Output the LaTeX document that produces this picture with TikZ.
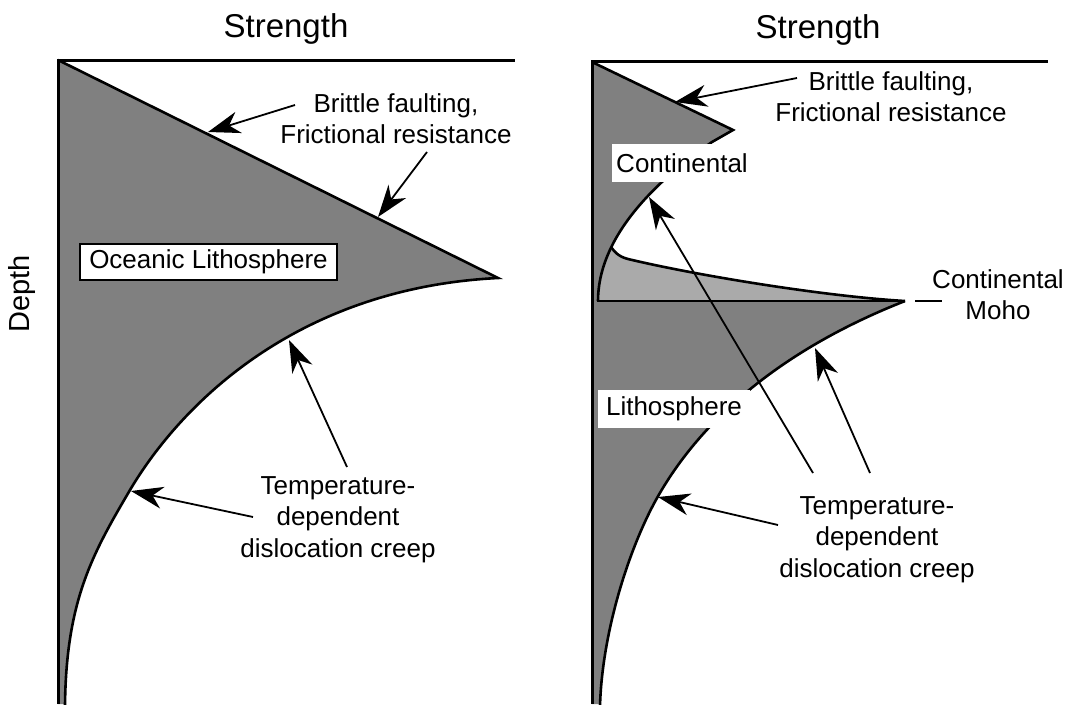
\documentclass[tikz,border=0pt]{standalone}
\usepackage{fontspec}
\setmainfont{Liberation Sans}
\usetikzlibrary{arrows.meta}
\definecolor{darkg}{RGB}{128,128,128}
\definecolor{lightg}{RGB}{170,170,170}
\newcommand\lblfont{\fontsize{26}{31.5}\selectfont}
\newcommand\ttlfont{\fontsize{33}{38}\selectfont}
\begin{document}
\begin{tikzpicture}[x=1pt,y=-1pt,
  outl/.style={line width=2.6pt, line join=miter, miter limit=20},
  axisline/.style={line width=3pt, line join=miter},
  arr/.style={line width=1.8pt, -{Stealth[length=32pt,width=22pt,inset=10pt]}},
  lbl/.style={font=\lblfont, inner sep=0pt, align=center},
  ttl/.style={font=\ttlfont, inner sep=0pt, anchor=base}]
\useasboundingbox (0,0) rectangle (1068,704);

% ---------- left panel ----------
\fill[darkg] (58,60) -- (498,278) .. controls (297,288) and (181,404) .. (130,490)
  .. controls (93,553) and (66,600) .. (65,704) -- (58,704) -- cycle;
\draw[outl] (58,60) -- (498,278) .. controls (297,288) and (181,404) .. (130,490)
  .. controls (93,553) and (66,600) .. (65,706);
\draw[axisline] (58,704) -- (58,60) -- (515,60);

% ---------- right panel ----------
\fill[lightg] (905,301) .. controls (820,296) and (690,274) .. (628,259)
  .. controls (618,256.6) and (614,251) .. (611,247) -- (600,240) -- (592,240) -- (592,301) -- cycle;
\draw[outl] (905,301) .. controls (820,296) and (690,274) .. (628,259)
  .. controls (618,256.6) and (614,251) .. (611,247);
\fill[darkg] (592,62) -- (733,130) -- (712,142) .. controls (650,185) and (598,240) .. (598,301) -- (592,301) -- cycle;
\draw[outl] (592,62) -- (733,130) -- (712,142) .. controls (650,185) and (598,240) .. (598,301);
\fill[darkg] (592,301) -- (905,301) .. controls (793,345) and (706,411) .. (657,498)
  .. controls (628,550) and (602,634) .. (600,704) -- (592,704) -- cycle;
\draw[outl] (905,301) .. controls (793,345) and (706,411) .. (657,498)
  .. controls (628,550) and (602,634) .. (600,706);
\draw[outl] (597,301) -- (905,301);
\draw[axisline] (592,704) -- (592,61) -- (1048,61);

% ---------- titles ----------
\node[ttl] (tL) at (286,37) {Strength};
\node[ttl] (tR) at (818,38) {Strength};
\node[font=\fontsize{29}{34}\selectfont, rotate=90, inner sep=0pt] (depth) at (22,294) {Depth};

% ---------- labels ----------
\node[lbl, draw, line width=1.4pt, fill=white, minimum width=257pt, minimum height=36pt] (oce) at (208.5,262) {Oceanic Lithosphere};
\node[lbl, fill=white, minimum width=140pt, minimum height=38pt] (cont) at (682,163) {Continental};
\node[lbl, fill=white, minimum width=152pt, minimum height=38pt] (litho) at (674,409) {Lithosphere};

\node[lbl, anchor=north] (brL) at (396,93) {Brittle faulting,\\Frictional resistance};
\node[lbl, anchor=north] (brR) at (891,71) {Brittle faulting,\\Frictional resistance};
\node[lbl, anchor=north] (tempL) at (338,476) {Temperature-\\dependent\\dislocation creep};
\node[lbl, anchor=north] (tempR) at (877,496) {Temperature-\\dependent\\dislocation creep};
\node[lbl, anchor=north] (moho) at (998,269) {Continental\\Moho};

\coordinate (mohoA) at (915,301);
\coordinate (mohoB) at (942,301);
\draw[line width=2.5pt] (mohoA) -- (mohoB);

% ---------- arrows ----------
\coordinate (lb1t) at (295,105); \coordinate (lb1h) at (208,132);
\coordinate (lb2t) at (427,152); \coordinate (lb2h) at (378,217);
\coordinate (lt1t) at (347,467); \coordinate (lt1h) at (289,340);
\coordinate (lt2t) at (253,517); \coordinate (lt2h) at (131,491);
\coordinate (rbt) at (797,78);   \coordinate (rbh) at (675,102);
\coordinate (rt1t) at (813,473); \coordinate (rt1h) at (649,197);
\coordinate (rt2t) at (870,473); \coordinate (rt2h) at (815,348);
\coordinate (rt3t) at (778,525); \coordinate (rt3h) at (658,497);
\draw[arr] (lb1t) -- (lb1h);
\draw[arr] (lb2t) -- (lb2h);
\draw[arr] (lt1t) -- (lt1h);
\draw[arr] (lt2t) -- (lt2h);
\draw[arr] (rbt) -- (rbh);
\draw[arr] (rt1t) -- (rt1h);
\draw[arr] (rt2t) -- (rt2h);
\draw[arr] (rt3t) -- (rt3h);
\end{tikzpicture}
\end{document}
